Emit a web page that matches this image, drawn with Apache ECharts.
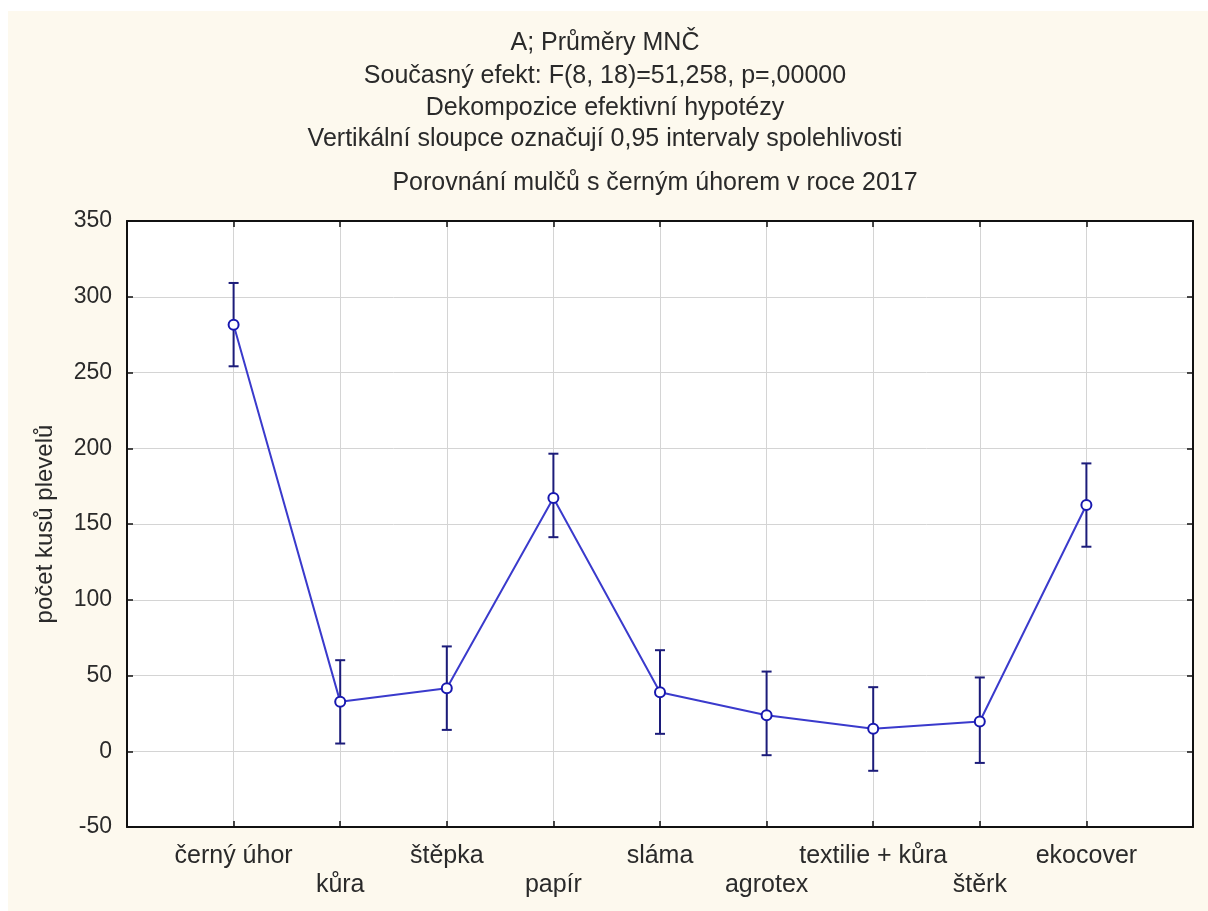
<!DOCTYPE html>
<html>
<head>
<meta charset="utf-8">
<script src="https://cdn.jsdelivr.net/npm/echarts@6/dist/echarts.min.js"></script>
<style>
  html, body { margin: 0; padding: 0; background: #ffffff; }
  #chart { width: 1208px; height: 911px; }
</style>
</head>
<body>
<div id="chart"></div>
<script>
// Mulch treatments compared with black fallow (2017)
const categories = ['černý úhor', 'kůra', 'štěpka', 'papír', 'sláma', 'agrotex', 'textilie + kůra', 'štěrk', 'ekocover'];
const means = [281.5, 32.6, 41.6, 167.1, 39.0, 23.8, 14.8, 19.6, 162.5];
const upper = [309.1, 60.1, 69.2, 196.4, 66.7, 52.6, 42.3, 48.7, 190.0];
const lower = [254.1, 5.1, 14.1, 141.3, 11.5, -2.6, -12.9, -7.7, 135.0];
const yTicks = [-50, 0, 50, 100, 150, 200, 250, 300, 350];

const titleLines = [
  'A; Průměry MNČ',
  'Současný efekt: F(8, 18)=51,258, p=,00000',
  'Dekompozice efektivní hypotézy',
  'Vertikální sloupce označují 0,95 intervaly spolehlivosti'
];
const subTitle = 'Porovnání mulčů s černým úhorem v roce 2017';
const yName = 'počet kusů plevelů';

const FONT = '"Liberation Sans", Arial, sans-serif';
const TXT = '#2a2a2a';

const meanPoints = means.map((m, i) => [i + 1, m]);
const ciData = categories.map((c, i) => [i + 1, lower[i], upper[i]]);

const chart = echarts.init(document.getElementById('chart'), null, { renderer: 'canvas' });

const titleY = [43, 76, 108, 139];
const graphics = [
  { type: 'rect', z: -10, shape: { x: 8, y: 11, width: 1200, height: 900 }, style: { fill: '#fdf9ee' } }
];
titleLines.forEach((t, i) => {
  graphics.push({ type: 'text', x: 605, y: titleY[i], style: { text: t, fill: TXT, font: '25px ' + FONT, textAlign: 'center', textVerticalAlign: 'middle' } });
});
graphics.push({ type: 'text', x: 655, y: 183, style: { text: subTitle, fill: TXT, font: '25px ' + FONT, textAlign: 'center', textVerticalAlign: 'middle' } });

const axisLine = { show: true, onZero: false, lineStyle: { color: '#111', width: 2 } };
const inTicks = { show: true, inside: true, length: 6, lineStyle: { color: '#111', width: 1.5 } };

chart.setOption({
  animation: false,
  backgroundColor: 'transparent',
  graphic: graphics,
  grid: { left: 127, top: 221, right: 15, bottom: 84, show: true, backgroundColor: '#ffffff', borderWidth: 0 },
  xAxis: [
    {
      type: 'value', min: 0, max: 10, interval: 1, position: 'bottom',
      axisLine: axisLine, axisTick: inTicks,
      splitLine: { show: true, lineStyle: { color: '#d4d4d4', width: 1 } },
      axisLabel: {
        margin: 15, color: TXT, fontFamily: FONT, fontSize: 25, lineHeight: 29,
        formatter: v => {
          const i = v - 1;
          if (i < 0 || i >= categories.length) return '';
          return i % 2 === 1 ? '\n' + categories[i] : categories[i];
        }
      }
    },
    {
      type: 'value', min: 0, max: 10, interval: 1, position: 'top',
      axisLine: axisLine, axisTick: inTicks, axisLabel: { show: false }, splitLine: { show: false }
    }
  ],
  yAxis: [
    {
      type: 'value', min: yTicks[0], max: yTicks[yTicks.length - 1], interval: 50, position: 'left',
      axisLine: axisLine, axisTick: inTicks,
      splitLine: { show: true, lineStyle: { color: '#d4d4d4', width: 1 } },
      axisLabel: { margin: 15, color: TXT, fontFamily: FONT, fontSize: 23 },
      name: yName, nameLocation: 'middle', nameGap: 70, nameRotate: 90,
      nameTextStyle: { color: TXT, fontFamily: FONT, fontSize: 24 }
    },
    {
      type: 'value', min: yTicks[0], max: yTicks[yTicks.length - 1], interval: 50, position: 'right',
      axisLine: axisLine, axisTick: inTicks, axisLabel: { show: false }, splitLine: { show: false }
    }
  ],
  series: [
    {
      type: 'custom',
      name: 'CI',
      xAxisIndex: 0, yAxisIndex: 0,
      data: ciData,
      z: 3,
      renderItem: (params, api) => {
        const x = api.value(0);
        const lo = api.coord([x, api.value(1)]);
        const hi = api.coord([x, api.value(2)]);
        const cap = 5;
        const style = { stroke: '#1c1c7a', lineWidth: 2, fill: null };
        return {
          type: 'group',
          children: [
            { type: 'line', shape: { x1: lo[0], y1: lo[1], x2: hi[0], y2: hi[1] }, style },
            { type: 'line', shape: { x1: hi[0] - cap, y1: hi[1], x2: hi[0] + cap, y2: hi[1] }, style },
            { type: 'line', shape: { x1: lo[0] - cap, y1: lo[1], x2: lo[0] + cap, y2: lo[1] }, style }
          ]
        };
      }
    },
    {
      type: 'line',
      name: 'průměr',
      data: meanPoints,
      z: 4,
      symbol: 'circle',
      symbolSize: 10,
      lineStyle: { color: '#3a3acc', width: 2 },
      itemStyle: { color: '#ffffff', borderColor: '#1818b0', borderWidth: 2 }
    }
  ]
});
</script>
</body>
</html>
